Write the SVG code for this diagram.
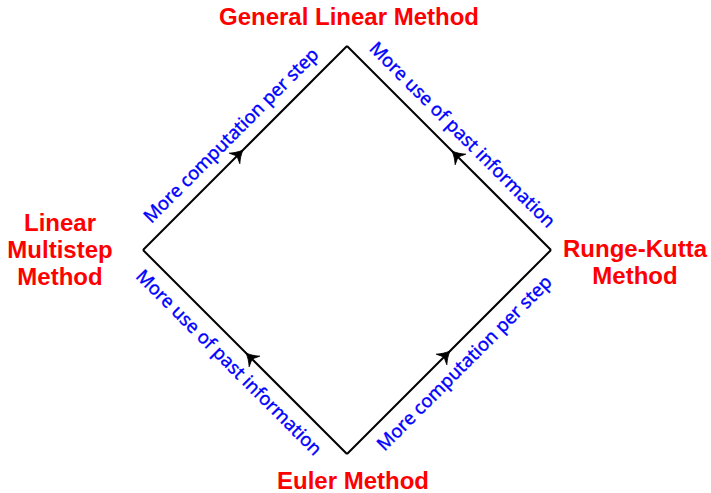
<svg xmlns="http://www.w3.org/2000/svg" width="711" height="493" viewBox="0 0 711 493">
  <style>
    .node { font-family: "Liberation Sans", Arial, sans-serif; font-weight: bold; font-size: 24px; fill: #ff0000; text-anchor: middle; }
    .edge { fill: none; stroke: #000; stroke-width: 2; stroke-linejoin: miter; }
    .lbl { font-family: "Noto Sans", "Open Sans", sans-serif; font-size: 18.5px; fill: #0000ff; stroke: #0000ff; stroke-width: 0.35; text-anchor: middle; }
  </style>
  <defs>
    <marker id="ah" markerUnits="userSpaceOnUse" viewBox="-16 -9 18 18" refX="0" refY="0" markerWidth="18" markerHeight="18" orient="auto">
      <path d="M0,0 C-4,-1.5 -8,-4 -12,-7.5 L-8.5,0 L-12,7.5 C-8,4 -4,1.5 0,0 Z" fill="#000" stroke="#000" stroke-width="0.8" stroke-linejoin="round"/>
    </marker>
  </defs>
  <rect width="711" height="493" fill="#fff"/>
  <g id="connectors">
    <path class="edge" d="M143,250 L243,150 L347,46" marker-mid="url(#ah)"/>
    <path class="edge" d="M551,250 L452,151 L347,46" marker-mid="url(#ah)"/>
    <path class="edge" d="M347,454 L246,353 L143,250" marker-mid="url(#ah)"/>
    <path class="edge" d="M347,454 L450,351 L551,250" marker-mid="url(#ah)"/>
    <g transform="translate(245,148) rotate(-45)"><text class="lbl" x="-1" y="-12.5">More computation per step</text></g>
    <g transform="translate(449,148) rotate(45)"><text class="lbl" x="0" y="-12.5">More use of past information</text></g>
    <g transform="translate(245,352) rotate(45)"><text class="lbl" x="-4" y="25">More use of past information</text></g>
    <g transform="translate(449,352) rotate(-45)"><text class="lbl" x="3" y="25">More computation per step</text></g>
  </g>
  <g id="general-linear"><text class="node" x="349" y="25">General Linear Method</text></g>
  <g id="linear-multistep"><text class="node" x="60" y="231">Linear</text><text class="node" x="60" y="258">Multistep</text><text class="node" x="60" y="285">Method</text></g>
  <g id="runge-kutta"><text class="node" x="635" y="257">Runge-Kutta</text><text class="node" x="635" y="284">Method</text></g>
  <g id="euler"><text class="node" x="353" y="489">Euler Method</text></g>
</svg>
